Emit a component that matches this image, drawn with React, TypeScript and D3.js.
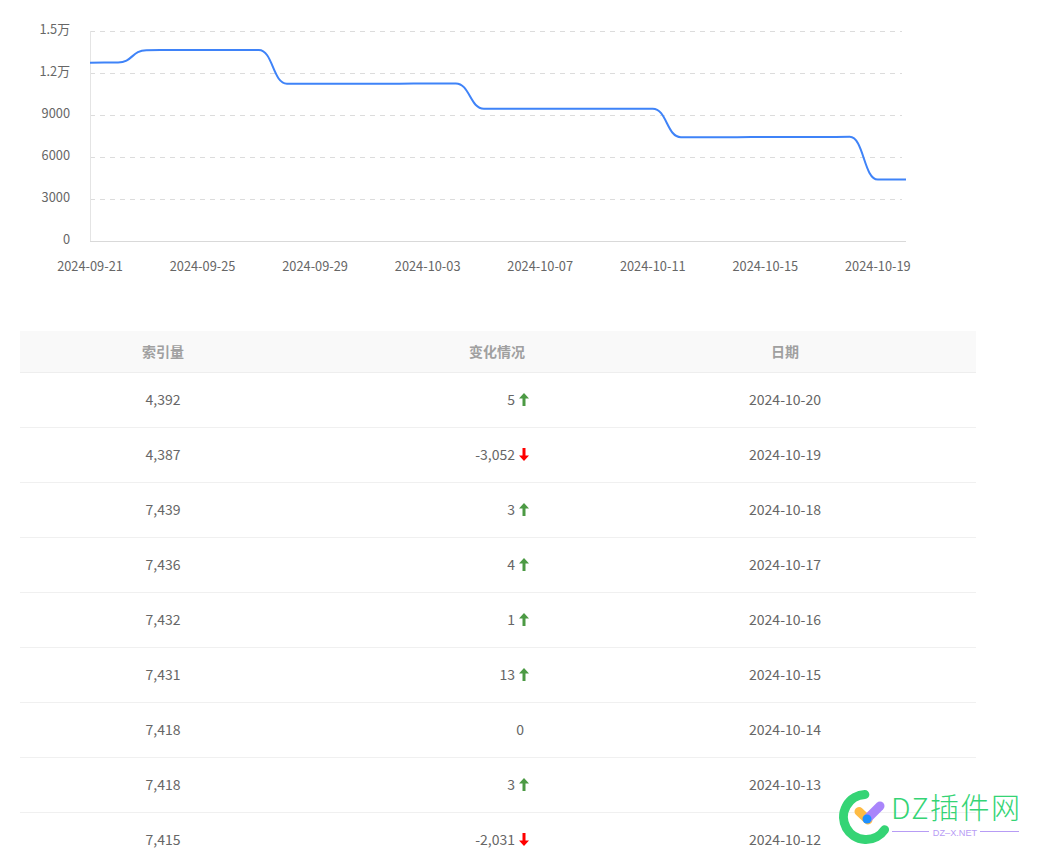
import { useEffect, useRef } from 'react';
import * as d3 from 'd3';

const dates = [
  '2024-09-21', '2024-09-22', '2024-09-23', '2024-09-24', '2024-09-25', '2024-09-26',
  '2024-09-27', '2024-09-28', '2024-09-29', '2024-09-30', '2024-10-01', '2024-10-02',
  '2024-10-03', '2024-10-04', '2024-10-05', '2024-10-06', '2024-10-07', '2024-10-08',
  '2024-10-09', '2024-10-10', '2024-10-11', '2024-10-12', '2024-10-13', '2024-10-14',
  '2024-10-15', '2024-10-16', '2024-10-17', '2024-10-18', '2024-10-19', '2024-10-20',
];
const indexed = [
  12740, 12745, 13630, 13640, 13640, 13640,
  13640, 11235, 11240, 11240, 11240, 11240,
  11255, 11255, 9450, 9450, 9450, 9450,
  9450, 9448, 9446, 7415, 7418, 7418,
  7431, 7432, 7436, 7439, 4387, 4392,
];
const yTicks = [0, 3000, 6000, 9000, 12000, 15000];
const xTickDates = dates.filter((_, i) => i % 4 === 0);

const tableHeaders = ['索引量', '变化情况', '日期'];
const rowCounts = ['4,392', '4,387', '7,439', '7,436', '7,432', '7,431', '7,418', '7,418', '7,415'];
const rowChanges = ['5', '-3,052', '3', '4', '1', '13', '0', '3', '-2,031'];
const rowDates = [
  '2024-10-20', '2024-10-19', '2024-10-18', '2024-10-17', '2024-10-16',
  '2024-10-15', '2024-10-14', '2024-10-13', '2024-10-12',
];

const FONT = '"Noto Sans CJK SC", "Noto Sans", sans-serif';
const TEXT = '#666666';

const formatTick = (v: number) => (v >= 10000 ? `${v / 10000}万` : `${v}`);

export default function App() {
  const svgRef = useRef<SVGSVGElement>(null);

  useEffect(() => {
    if (!svgRef.current) return;
    const svg = d3.select(svgRef.current);
    svg.selectAll('*').remove();
    svg.style('font-family', FONT);

    // Chart
    const xScale = d3.scalePoint<string>().domain(dates).range([90, 906]);
    const yScale = d3.scaleLinear().domain([0, 15000]).range([241, 31]);

    const chart = svg.append('g');

    chart
      .selectAll('line.grid')
      .data(yTicks.filter((t) => t > 0))
      .enter()
      .append('line')
      .attr('class', 'grid')
      .attr('x1', 90)
      .attr('x2', 902)
      .attr('y1', (d) => yScale(d) + 0.5)
      .attr('y2', (d) => yScale(d) + 0.5)
      .attr('stroke', '#dcdcdc')
      .attr('stroke-dasharray', '5,5');

    // Axis lines
    chart.append('line').attr('x1', 90.5).attr('x2', 90.5).attr('y1', 31).attr('y2', 241).attr('stroke', '#e4e4e4');
    chart.append('line').attr('x1', 90).attr('x2', 906).attr('y1', 241.5).attr('y2', 241.5).attr('stroke', '#d9d9d9');

    chart
      .selectAll('text.ytick')
      .data(yTicks)
      .enter()
      .append('text')
      .attr('class', 'ytick')
      .attr('x', 70)
      .attr('y', (d) => yScale(d) - 1)
      .attr('dy', '0.35em')
      .attr('text-anchor', 'end')
      .attr('font-size', 12.8)
      .attr('fill', TEXT)
      .text(formatTick);

    chart
      .selectAll('text.xtick')
      .data(xTickDates)
      .enter()
      .append('text')
      .attr('class', 'xtick')
      .attr('x', (d) => xScale(d) as number)
      .attr('y', 271)
      .attr('text-anchor', 'middle')
      .attr('font-size', 12.8)
      .attr('fill', TEXT)
      .text((d) => d);

    const line = d3
      .line<number>()
      .x((_, i) => xScale(dates[i]) as number)
      .y((d) => yScale(d))
      .curve(d3.curveBumpX);

    chart
      .append('path')
      .datum(indexed)
      .attr('fill', 'none')
      .attr('stroke', '#3f83f8')
      .attr('stroke-width', 2)
      .attr('d', line);

    // Table
    const table = svg.append('g');
    const rowScale = d3.scaleLinear().domain([0, 1]).range([372, 427]);
    const colX = [163, 497, 785];

    table.append('rect').attr('x', 20).attr('y', 331).attr('width', 956).attr('height', 41).attr('fill', '#f9f9f9');
    table.append('line').attr('x1', 20).attr('x2', 976).attr('y1', 372.5).attr('y2', 372.5).attr('stroke', '#eeeeee');

    table
      .selectAll('text.head')
      .data(tableHeaders)
      .enter()
      .append('text')
      .attr('class', 'head')
      .attr('x', (_, i) => colX[i])
      .attr('y', 357)
      .attr('text-anchor', 'middle')
      .attr('font-size', 14)
      .attr('font-weight', 700)
      .attr('fill', '#a0a0a0')
      .text((d) => d);

    const rows = table
      .selectAll('g.row')
      .data(rowCounts)
      .enter()
      .append('g')
      .attr('class', 'row')
      .attr('transform', (_, i) => `translate(0,${rowScale(i)})`);

    rows
      .append('line')
      .attr('x1', 20)
      .attr('x2', 976)
      .attr('y1', 55.5)
      .attr('y2', 55.5)
      .attr('stroke', '#f0f0f0');

    const addCell = (x: number, anchor: string, values: string[]) =>
      rows
        .append('text')
        .attr('x', x)
        .attr('y', 33)
        .attr('text-anchor', anchor)
        .attr('font-size', 14)
        .attr('fill', TEXT)
        .text((_, i) => values[i]);

    addCell(colX[0], 'middle', rowCounts);
    addCell(colX[2], 'middle', rowDates);
    rows
      .append('text')
      .attr('x', (_, i) => (rowChanges[i] === '0' ? 524 : 515))
      .attr('y', 33)
      .attr('text-anchor', 'end')
      .attr('font-size', 14)
      .attr('fill', TEXT)
      .text((_, i) => rowChanges[i]);

    // Trend arrows, up for a gain and down for a loss
    const arrowUp = 'M524 21 L529 26.5 L525.5 26.5 L525.5 34 L522.5 34 L522.5 26.5 L519 26.5 Z';
    const arrowDown = 'M524 34 L529 28.5 L525.5 28.5 L525.5 21 L522.5 21 L522.5 28.5 L519 28.5 Z';
    const changeAt = (el: Element) => rowChanges[(rows.nodes() as Element[]).indexOf(el)];
    rows.each(function () {
      const change = changeAt(this as Element);
      if (change === '0') return;
      const down = change.startsWith('-');
      d3.select(this as SVGGElement)
        .append('path')
        .attr('d', down ? arrowDown : arrowUp)
        .attr('fill', down ? '#ff0000' : '#4c9a44');
    });

    // Watermark
    const mark = svg.append('g');
    const ring = d3.path();
    ring.arc(866, 817, 22.5, -Math.PI / 2 - 0.05, 0.6, true);
    mark
      .append('path')
      .attr('d', ring.toString())
      .attr('fill', 'none')
      .attr('stroke', '#35d475')
      .attr('stroke-width', 9)
      .attr('stroke-linecap', 'round');
    mark.append('line').attr('x1', 859).attr('y1', 811.5).attr('x2', 868).attr('y2', 820).attr('stroke', '#fdbb44').attr('stroke-width', 9).attr('stroke-linecap', 'round');
    mark.append('line').attr('x1', 880).attr('y1', 806).attr('x2', 868).attr('y2', 818).attr('stroke', '#a985fb').attr('stroke-width', 9).attr('stroke-linecap', 'round');
    mark.append('circle').attr('cx', 867).attr('cy', 819).attr('r', 4.5).attr('fill', '#1e90ff');
    mark
      .append('text')
      .attr('x', 891)
      .attr('y', 819)
      .attr('font-size', 29)
      .attr('font-weight', 300)
      .attr('textLength', 129)
      .attr('lengthAdjust', 'spacing')
      .attr('fill', '#35d475')
      .text('DZ插件网');
    mark
      .append('text')
      .attr('x', 955)
      .attr('y', 836)
      .attr('text-anchor', 'middle')
      .attr('font-family', '"Liberation Sans", sans-serif')
      .attr('font-size', 9.2)
      .attr('fill', '#b79cf5')
      .text('DZ–X.NET');
    mark.append('line').attr('x1', 892).attr('x2', 929).attr('y1', 831.5).attr('y2', 831.5).attr('stroke', '#b79cf5');
    mark.append('line').attr('x1', 980).attr('x2', 1019).attr('y1', 831.5).attr('y2', 831.5).attr('stroke', '#b79cf5');
  }, []);

  return (
    <svg
      ref={svgRef}
      width={1039}
      height={855}
      viewBox="0 0 1039 855"
      style={{ position: 'fixed', left: 0, top: 0, display: 'block', background: '#fff' }}
    />
  );
}
